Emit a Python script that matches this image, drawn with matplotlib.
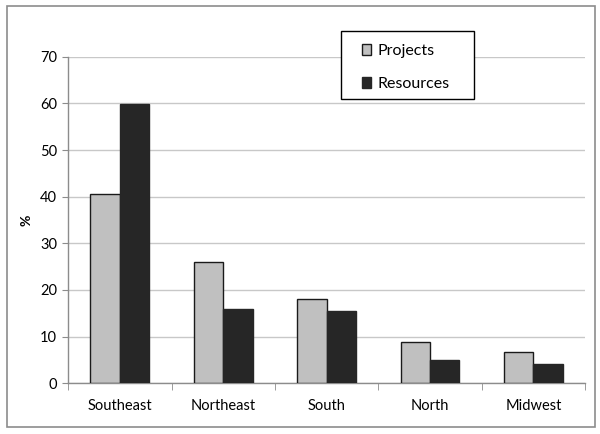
import matplotlib

matplotlib.use("Agg")
import matplotlib.pyplot as plt
import numpy as np
from matplotlib.patches import Rectangle

regions = ["Southeast", "Northeast", "South", "North", "Midwest"]
projects = [40.6, 25.9, 18.0, 8.9, 6.8]
resources = [59.8, 16.0, 15.5, 5.0, 4.1]

plt.rcParams["font.family"] = ["Lato", "DejaVu Sans"]

fig = plt.figure(figsize=(6.0, 4.34), dpi=100)
ax = fig.add_axes([0.1138, 0.1168, 0.8612, 0.7526])

# outer chart border
fig.patches.append(Rectangle((0.012, 0.016), 0.98, 0.97, transform=fig.transFigure,
                             fill=False, edgecolor="#8c8c8c", linewidth=1.2))

x = np.arange(len(regions))
w = 0.285
ax.bar(x - w / 2, projects, w, color="#c0c0c0", edgecolor="#1a1a1a", linewidth=1.0,
       label="Projects", zorder=3)
ax.bar(x + w / 2, resources, w, color="#262626", edgecolor="#262626", linewidth=1.0,
       label="Resources", zorder=3)

ax.set_xlim(-0.5, len(regions) - 0.5)
ax.set_ylim(0, 70)
ax.set_yticks(range(0, 71, 10))
ax.yaxis.grid(True, color="#c8c8c8", linewidth=1.0, zorder=0)

ax.set_xticks(x)
ax.set_xticklabels(regions, fontsize=10.5)
ax.set_xticks(np.arange(-0.5, len(regions), 1.0), minor=True)
ax.tick_params(axis="x", which="major", length=0, pad=11)
ax.tick_params(axis="x", which="minor", length=5, color="#8c8c8c", direction="out")
ax.tick_params(axis="y", labelsize=10.5, length=4, color="#8c8c8c", pad=4)

for side in ("top", "right"):
    ax.spines[side].set_visible(False)
for side in ("left", "bottom"):
    ax.spines[side].set_color("#8c8c8c")
    ax.spines[side].set_linewidth(1.0)

ax.set_ylabel("%", fontsize=10, fontweight="bold")
ax.yaxis.set_label_coords(-0.07, 0.5)

# legend box drawn separately so the padding can match the original
fig.patches.append(Rectangle((341 / 600, 1 - 99 / 434), 133 / 600, 68 / 434,
                             transform=fig.transFigure, facecolor="white",
                             edgecolor="black", linewidth=1.0, zorder=5))
leg = fig.legend(loc="upper left", bbox_to_anchor=(362 / 600, 1 - 44 / 434),
                 borderaxespad=0, borderpad=0, fontsize=11.5, frameon=False,
                 handlelength=0.55, handleheight=0.7, labelspacing=1.15,
                 handletextpad=0.45)
leg.set_zorder(6)

fig.savefig("out.png", dpi=100, facecolor="white")
